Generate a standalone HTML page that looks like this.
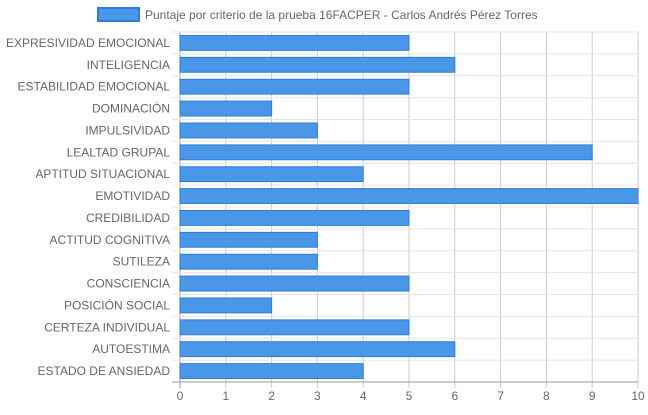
<!DOCTYPE html>
<html><head><meta charset="utf-8"><style>
body{margin:0;background:#fff;}
svg text{font-family:"Liberation Sans",sans-serif;fill:#666;}
</style></head><body>
<svg id="c" width="648" height="410" xmlns="http://www.w3.org/2000/svg">
<g>
<rect x="98" y="8" width="41" height="13" fill="#4a97e8" stroke="#2a7ee0" stroke-width="2"/>
<text x="145" y="19" font-size="12">Puntaje por criterio de la prueba 16FACPER - Carlos Andrés Pérez Torres</text>
</g>
<g id="grid"></g><g id="bars"></g><g id="labels"></g>
</svg>
<script>
const categories=["EXPRESIVIDAD EMOCIONAL","INTELIGENCIA","ESTABILIDAD EMOCIONAL","DOMINACIÓN","IMPULSIVIDAD","LEALTAD GRUPAL","APTITUD SITUACIONAL","EMOTIVIDAD","CREDIBILIDAD","ACTITUD COGNITIVA","SUTILEZA","CONSCIENCIA","POSICIÓN SOCIAL","CERTEZA INDIVIDUAL","AUTOESTIMA","ESTADO DE ANSIEDAD"];
const values=[5,6,5,2,3,9,4,10,5,3,3,5,2,5,6,4];
const ticks=[0,1,2,3,4,5,6,7,8,9,10];
const NS="http://www.w3.org/2000/svg";
const L=180,R=638,T=32,B=382,xMax=10;
const x=v=>L+(R-L)*v/xMax;
const band=(B-T)/categories.length;
const y=i=>T+band*i;
function mk(tag,attrs,parent){const e=document.createElementNS(NS,tag);for(const k in attrs)e.setAttribute(k,attrs[k]);document.getElementById(parent).appendChild(e);return e;}
ticks.forEach(t=>{
  const l=mk('line',{x1:x(t),x2:x(t),y1:T,y2:B+6,stroke:t===0?'#999':'#ccc','stroke-width':1},'grid');
  
  
  const tx=mk('text',{x:x(t),y:B+18,'font-size':12,'text-anchor':'middle'},'labels');
  tx.textContent=t;
  
  
});
for(let i=0;i<=categories.length;i++){
  const l=mk('line',{x1:L-8,x2:R,y1:y(i),y2:y(i),stroke:i===categories.length?'#999':'#e4e4e4','stroke-width':1},'grid');
  
  
}
categories.forEach((c,i)=>{
  const h=band*0.68;
  const r=mk('rect',{x:x(0),y:y(i)+(band-h)/2,width:x(values[i])-x(0),height:h,fill:'#4a97e8',stroke:'#2a7ee0','stroke-width':1},'bars');
  
  
  const t=mk('text',{x:L-10,y:y(i)+band/2+4,'font-size':12,'text-anchor':'end'},'labels');
  t.textContent=c;
  
  
});
</script>
</body></html>
